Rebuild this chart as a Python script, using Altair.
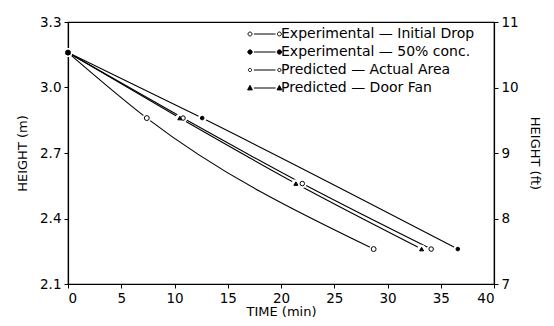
import altair as alt
import pandas as pd

series = [
    "Experimental — Initial Drop",
    "Predicted — Actual Area",
    "Predicted — Door Fan",
    "Experimental — 50% conc.",
]
legend_order = [
    "Experimental — Initial Drop",
    "Experimental — 50% conc.",
    "Predicted — Actual Area",
    "Predicted — Door Fan",
]
t_init = [0, 7.4, 28.7]
h_init = [3.16, 2.86, 2.26]
t_area = [0, 10.8, 22.0, 34.1]
h_area = [3.16, 2.86, 2.56, 2.26]
t_fan = [0, 10.5, 21.4, 33.2]
h_fan = [3.16, 2.86, 2.56, 2.26]
t_50 = [0, 12.6, 36.6]
h_50 = [3.16, 2.86, 2.26]

x_ticks = [0, 5, 10, 15, 20, 25, 30, 35, 40]
m_ticks = [2.1, 2.4, 2.7, 3.0, 3.3]
ft_ticks = [7, 8, 9, 10, 11]

rows = []
for name, ts, hs in zip(series, [t_init, t_area, t_fan, t_50], [h_init, h_area, h_fan, h_50]):
    for i, (t, h) in enumerate(zip(ts, hs)):
        rows.append({"series": name, "time": t, "height": h, "idx": i})
df = pd.DataFrame(rows)
ft_df = pd.DataFrame({"ft": ft_ticks})

FONT = "DejaVu Sans"

def circ(cx, r):
    return f"M{cx - r},0A{r},{r} 0 1,0 {cx + r},0A{r},{r} 0 1,0 {cx - r},0Z"

def tri(cx, r):
    return f"M{cx},{-r * 1.1}L{cx + r},{r * 0.8}L{cx - r},{r * 0.8}Z"

R = 4.9
line_part = f"M0.65,0L{R - 0.65},0"
leg_paths = [
    circ(0, 0.33) + line_part + circ(R, 0.33),
    circ(0, 0.36) + line_part + circ(R, 0.36),
    circ(0, 0.27) + line_part + circ(R, 0.27),
    tri(0, 0.4) + line_part + tri(R, 0.4),
]
leg_fill = ["white", "black", "white", "black"]

legend = alt.Legend(
    title=None, orient="none", legendX=175, legendY=5,
    labelFont=FONT, labelFontSize=14, labelColor="black", labelLimit=400,
    symbolSize=144, symbolStrokeWidth=1, labelOffset=24, rowPadding=4, padding=0,
)

x_enc = alt.X("time:Q", scale=alt.Scale(domain=[0, 40], nice=False),
              axis=alt.Axis(values=x_ticks, title="TIME (min)", format="d"))
y_enc = alt.Y("height:Q", scale=alt.Scale(domain=[2.1, 3.3], nice=False, zero=False),
              axis=alt.Axis(values=m_ticks, title="HEIGHT (m)", format=".1f", titlePadding=10))

base = alt.Chart(df)

lines = base.mark_line(color="black", strokeWidth=1.1, interpolate="monotone").encode(
    x=x_enc, y=y_enc, detail="series:N", order="idx:Q"
)
halo = base.mark_point(filled=True, color="white", size=75, opacity=1).encode(
    x="time:Q", y="height:Q"
)
markers = base.mark_point(filled=True, stroke="black", strokeWidth=1, opacity=1).encode(
    x="time:Q", y="height:Q",
    shape=alt.Shape("series:N", scale=alt.Scale(domain=series,
                    range=["circle", "circle", "triangle-up", "circle"]), legend=None),
    fill=alt.Fill("series:N", scale=alt.Scale(domain=series,
                  range=["white", "white", "black", "black"]), legend=None),
    size=alt.Size("series:N", scale=alt.Scale(domain=series, range=[24, 13, 28, 28]), legend=None),
)
leg = base.transform_filter("datum.height < 0").mark_point(
    filled=True, strokeWidth=1, opacity=1
).encode(
    x="time:Q", y="height:Q",
    shape=alt.Shape("series:N", scale=alt.Scale(domain=legend_order, range=leg_paths), legend=legend),
    fill=alt.Fill("series:N", scale=alt.Scale(domain=legend_order, range=leg_fill), legend=legend),
    stroke=alt.Stroke("series:N", scale=alt.Scale(domain=legend_order, range=["black"] * 4), legend=legend),
)

inner = alt.layer(lines, halo, markers, leg).resolve_scale(
    shape="independent", fill="independent", size="independent", stroke="independent"
)

ft_layer = alt.Chart(ft_df).mark_point(opacity=0).encode(
    x=alt.value(0),
    y=alt.Y("ft:Q", scale=alt.Scale(domain=[7, 11], nice=False, zero=False),
            axis=alt.Axis(orient="right", values=ft_ticks, title="HEIGHT (ft)", format="d",
                          titlePadding=9)),
)

chart = alt.layer(inner, ft_layer).resolve_scale(y="independent").properties(
    width=426, height=262,
    autosize=alt.AutoSizeParams(type="none"),
    padding={"left": 60, "top": 14, "right": 50, "bottom": 40},
).configure_view(stroke="black", strokeWidth=1.2).configure_axis(
    grid=False, domainColor="black", domainWidth=1.2, tickColor="black", tickSize=4,
    labelFont=FONT, labelFontSize=13.5, labelColor="black", titleFont=FONT,
    titleFontSize=13, titleFontWeight="normal", titleColor="black", labelPadding=3,
).configure_axisX(titlePadding=1)

chart.save("out.html", embed_options={"renderer": "svg", "actions": False})
